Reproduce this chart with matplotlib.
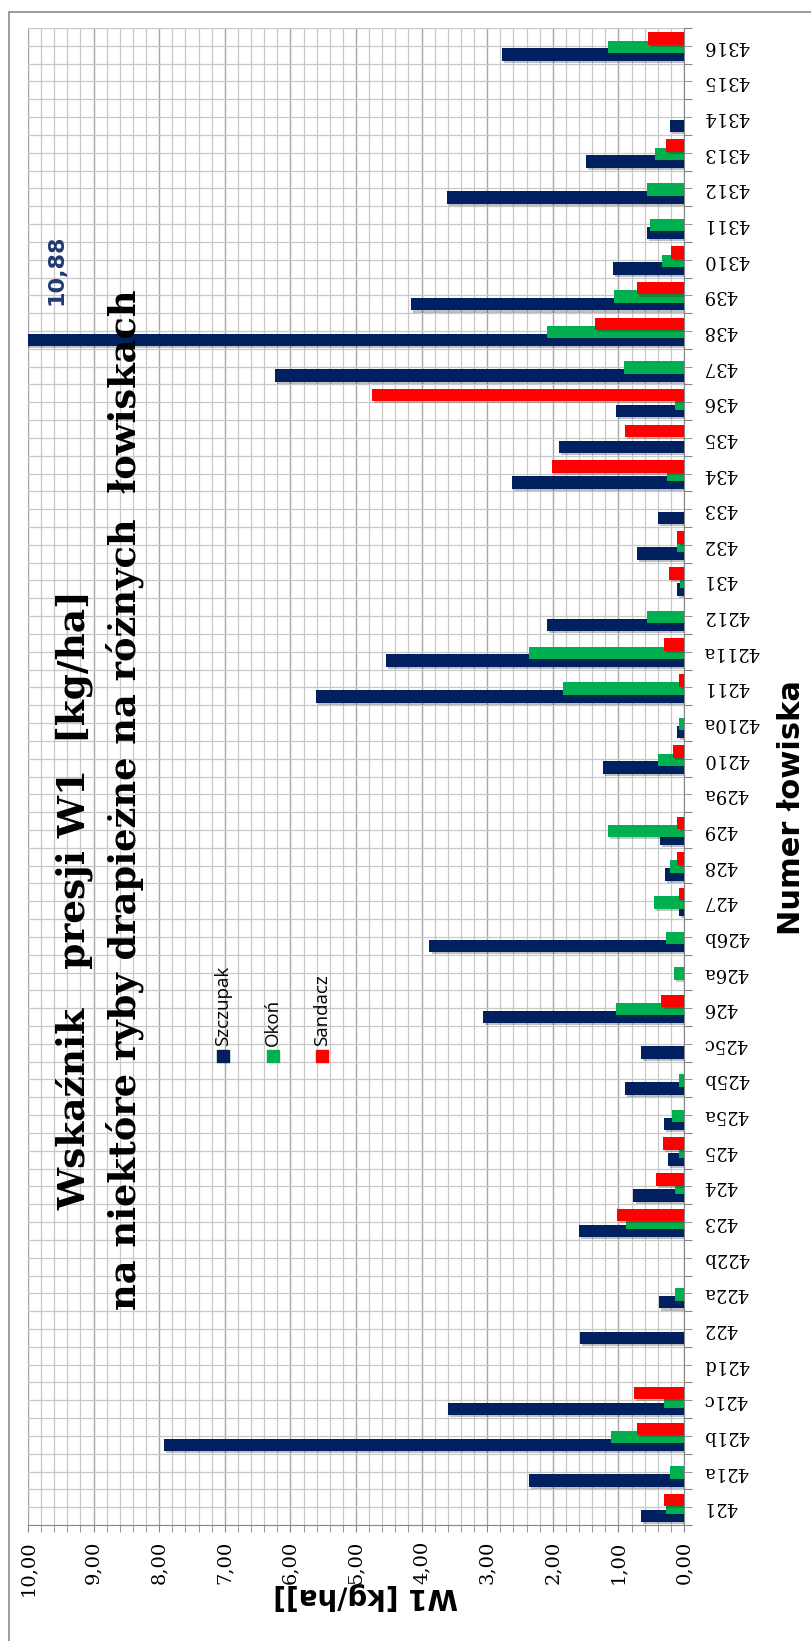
import matplotlib.pyplot as plt
import numpy as np
from matplotlib.patches import Rectangle
import matplotlib.patheffects as pe

# lowiska, od dolu do gory
cats = ['421', '421a', '421b', '421c', '421d', '422', '422a', '422b', '423', '424',
        '425', '425a', '425b', '425c', '426', '426a', '426b', '427', '428', '429',
        '429a', '4210', '4210a', '4211', '4211a', '4212', '431', '432', '433', '434',
        '435', '436', '437', '438', '439', '4310', '4311', '4312', '4313', '4314',
        '4315', '4316']

szczupak = [0.66, 2.36, 7.93, 3.60, 0, 1.59, 0.38, 0, 1.60, 0.77,
            0.24, 0.30, 0.90, 0.66, 3.07, 0, 3.88, 0.08, 0.29, 0.36,
            0, 1.23, 0.10, 5.61, 4.54, 2.09, 0.11, 0.72, 0.40, 2.62,
            1.91, 1.04, 6.23, 10.88, 4.16, 1.08, 0.57, 3.61, 1.49, 0.21,
            0, 2.77]
okon = [0.27, 0.21, 1.12, 0.30, 0, 0, 0.14, 0, 0.89, 0.13,
        0.07, 0.19, 0.08, 0, 1.04, 0.16, 0.28, 0.46, 0.22, 1.16,
        0, 0.40, 0.07, 1.84, 2.36, 0.57, 0.06, 0.11, 0, 0.26,
        0, 0.14, 0.91, 2.09, 1.06, 0.34, 0.52, 0.57, 0.44, 0,
        0, 1.16]
sandacz = [0.30, 0, 0.72, 0.76, 0, 0, 0, 0, 1.02, 0.42,
           0.32, 0, 0, 0, 0.35, 0, 0, 0.07, 0.11, 0.10,
           0, 0.17, 0, 0.07, 0.30, 0, 0.23, 0.10, 0, 2.01,
           0.90, 4.76, 0, 1.35, 0.72, 0.20, 0, 0, 0.27, 0,
           0, 0.55]

series = ['Szczupak', 'Okoń', 'Sandacz']
cols = ['#002060', '#00b050', '#ff0000']
offsets = [-0.25, -0.03, 0.2]

W, H = 811, 1641
fig = plt.figure(figsize=(W / 100, H / 100), dpi=100)

def fx(px):
    return px / W

def fy(py):
    return 1 - py / H

ax = fig.add_axes([fx(28), fy(1525), fx(684) - fx(28), fy(28) - fy(1525)])

y = np.arange(len(cats))
shadow = [pe.SimplePatchShadow(offset=(1.5, -1.5), alpha=0.25), pe.Normal()]
for vals, col, off, name in zip([szczupak, okon, sandacz], cols, offsets, series):
    ax.barh(y + off, vals, height=0.35, color=col, label=name, path_effects=shadow, zorder=3)

ax.set_xlim(10, 0)
ax.set_ylim(-0.5, len(cats) - 0.5)

# siatka
ax.set_xticks(np.arange(0, 11, 1))
ax.set_xticks(np.arange(0, 10.01, 0.2), minor=True)
ax.set_xticklabels([('%.2f' % v).replace('.', ',') for v in np.arange(0, 11, 1)])
ax.set_yticks(np.arange(-0.5, len(cats), 1))
ax.set_yticks(y, minor=True)
ax.set_yticklabels([])
ax.set_yticklabels(cats, minor=True)
ax.grid(True, which='major', axis='x', color='#a6a6a6', lw=1.0, zorder=0)
ax.grid(True, which='minor', axis='x', color='#c8c8c8', lw=0.9, zorder=0)
ax.grid(True, which='both', axis='y', color='#c8c8c8', lw=0.9, zorder=0)
ax.set_axisbelow(True)

ax.yaxis.tick_right()
ax.tick_params(axis='y', which='both', direction='out', length=6, color='#868686', pad=8)
ax.tick_params(axis='x', which='both', direction='out', length=5, color='#868686', pad=6)
for lab in ax.get_yticklabels(minor=True):
    lab.set_rotation(180)
    lab.set_ha('left')
    lab.set_va('center')
    lab.set_family('DejaVu Serif')
    lab.set_fontsize(13)
for lab in ax.get_xticklabels():
    lab.set_rotation(90)
    lab.set_family('DejaVu Serif')
    lab.set_fontsize(14)

for s in ['top', 'left']:
    ax.spines[s].set_visible(False)
ax.spines['right'].set_color('#868686')
ax.spines['bottom'].set_color('#868686')

# etykieta dla slupka poza skala
i438 = cats.index('438')
ax.text(9.57, i438 + 0.72, ('%.2f' % szczupak[i438]).replace('.', ','), rotation=90,
        ha='center', va='bottom', color='#1f3a73', fontsize=16, fontweight='bold', zorder=4)

# tytul
fig.text(fx(75), fy(900), 'Wskaźnik   presji W1  [kg/ha]', rotation=90, ha='center', va='center',
         family='DejaVu Serif', fontweight='bold', fontsize=27)
fig.text(fx(125), fy(800), 'na niektóre ryby drapieżne na różnych  łowiskach', rotation=90,
         ha='center', va='center', family='DejaVu Serif', fontweight='bold', fontsize=26.5)

# osie
fig.text(fx(366), fy(1596), 'W1 [kg/ha]]', rotation=180, ha='center', va='center',
         fontweight='bold', fontsize=20)
fig.text(fx(792), fy(808), 'Numer łowiska', rotation=90, ha='center', va='center',
         fontweight='bold', fontsize=22)

# legenda
for name, col, px in zip(series, cols, [223, 273, 322]):
    fig.add_artist(Rectangle((fx(px - 6), fy(1062)), fx(12), fy(1050) - fy(1062),
                             transform=fig.transFigure, color=col))
    fig.text(fx(px), fy(1046), name, rotation=90, ha='center', va='bottom', fontsize=13.5,
             family='Open Sans')

# ramka
fig.add_artist(Rectangle((fx(9), fy(1650)), fx(820), fy(12) - fy(1650), transform=fig.transFigure,
                         fill=False, edgecolor='#8c8c8c', lw=1.2))

plt.savefig('out.png', dpi=100)
